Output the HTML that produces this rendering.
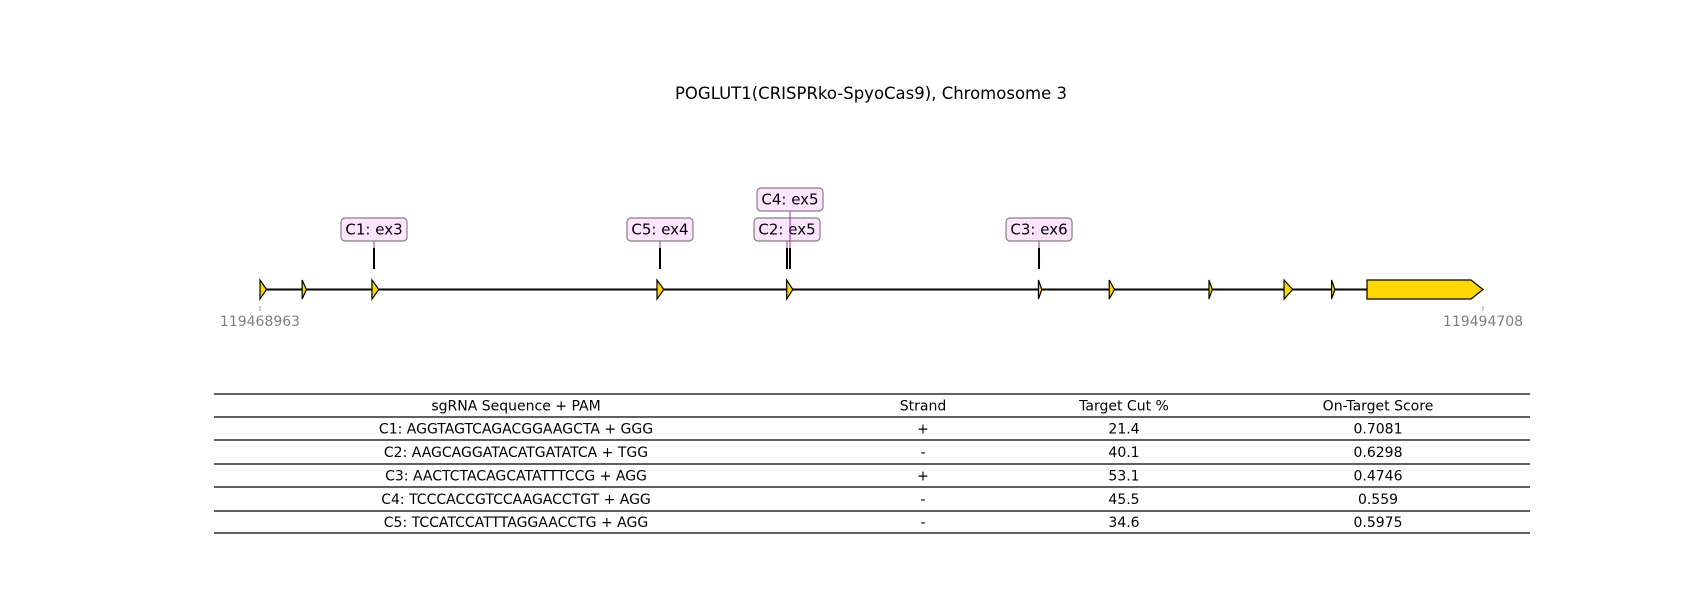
<!DOCTYPE html>
<html><head><meta charset="utf-8"><style>
body{margin:0;background:#fff;}
svg{display:block;font-family:"DejaVu Sans","Liberation Sans",sans-serif;}
</style></head><body>
<svg id="chart" width="1700" height="600" viewBox="0 0 1700 600">
<text x="871" y="99" text-anchor="middle" font-size="16.5" fill="#000">POGLUT1(CRISPRko-SpyoCas9), Chromosome 3</text>
<g id="track"></g>
<g id="table"></g>
</svg>
<script>
const regionStart = 119468963;
const regionEnd = 119494708;
const exonStarts = [119468963, 119469850, 119471320, 119477320, 119480050, 119485350, 119486840, 119488940, 119490520, 119491520, 119492266];
const exonEnds   = [119469100, 119469940, 119471465, 119477465, 119480180, 119485420, 119486950, 119489010, 119490700, 119491590, 119494708];
const guideLabels = ["C1: ex3", "C2: ex5", "C3: ex6", "C4: ex5", "C5: ex4"];
const guideCuts = [119471363, 119480057, 119485362, 119480120, 119477383];
const guideLevels = [0, 0, 0, 1, 0];
const tableHeader = ["sgRNA Sequence + PAM", "Strand", "Target Cut %", "On-Target Score"];
const seqs = ["C1: AGGTAGTCAGACGGAAGCTA + GGG","C2: AAGCAGGATACATGATATCA + TGG","C3: AACTCTACAGCATATTTCCG + AGG","C4: TCCCACCGTCCAAGACCTGT + AGG","C5: TCCATCCATTTAGGAACCTG + AGG"];
const strands = ["+","-","+","-","-"];
const cutPct = ["21.4","40.1","53.1","45.5","34.6"];
const scores = ["0.7081","0.6298","0.4746","0.559","0.5975"];

const NS="http://www.w3.org/2000/svg";
const X0=260, X1=1483, Y=289.5;
function xs(g){return X0+(g-regionStart)/(regionEnd-regionStart)*(X1-X0);}
function mk(tag,attrs,parent){const e=document.createElementNS(NS,tag);for(const k in attrs)e.setAttribute(k,attrs[k]);parent.appendChild(e);return e;}
const tr=document.getElementById('track');
let l=mk('line',{x1:xs(regionStart),x2:xs(regionEnd),y1:Y,y2:Y,stroke:'#000','stroke-width':2},tr);


exonStarts.forEach((s,i)=>{
  const a=xs(s), b=xs(exonEnds[i]), w=b-a, h=Math.min(w,12), t=Y-9.5, bt=Y+9.5;
  const p=mk('polygon',{points:`${a},${t} ${b-h},${t} ${b},${Y} ${b-h},${bt} ${a},${bt}`,fill:'#FFD700',stroke:'#000','stroke-width':1.2},tr);
  
  
});
[regionStart,regionEnd].forEach((g,i)=>{
  const x=xs(g);
  mk('line',{x1:x,x2:x,y1:306,y2:311,stroke:'#999','stroke-width':1},tr);
  const t=mk('text',{x:x,y:326,'text-anchor':'middle','font-size':14,fill:'#808080'},tr);
  t.textContent=g;
  
  
});
guideCuts.forEach((g,i)=>{
  const x=xs(g);
  const c=mk('line',{x1:x,x2:x,y1:248,y2:269,stroke:'#000','stroke-width':2},tr);
  
  
  const by=guideLevels[i]?188:218;
  mk('line',{x1:x,x2:x,y1:by+23,y2:248,stroke:'#800080','stroke-width':0.8},tr);
  const r=mk('rect',{x:x-33,y:by,width:66,height:23,rx:4,fill:'#FDE6FD',stroke:'#8a7a8a','stroke-width':1.2},tr);
  
  
  const t=mk('text',{x:x,y:by+16.5,'text-anchor':'middle','font-size':15,fill:'#000'},tr);
  t.textContent=guideLabels[i];
  
  
});
const tb=document.getElementById('table');
const colX=[516,923,1124,1378];
const rowYs=[394,417,440,464,487,511,533];
rowYs.forEach(y=>mk('line',{x1:214,x2:1530,y1:y,y2:y,stroke:'#000','stroke-width':1.2},tb));
const rows=[tableHeader].concat(seqs.map((s,i)=>[s,strands[i],cutPct[i],scores[i]]));
rows.forEach((r,ri)=>{
  const yc=(rowYs[ri]+rowYs[ri+1])/2+5;
  r.forEach((v,ci)=>{
    const t=mk('text',{x:colX[ci],y:yc,'text-anchor':'middle','font-size':14,fill:'#000'},tb);
    t.textContent=v;
    
    
  });
});
</script>
</body></html>
